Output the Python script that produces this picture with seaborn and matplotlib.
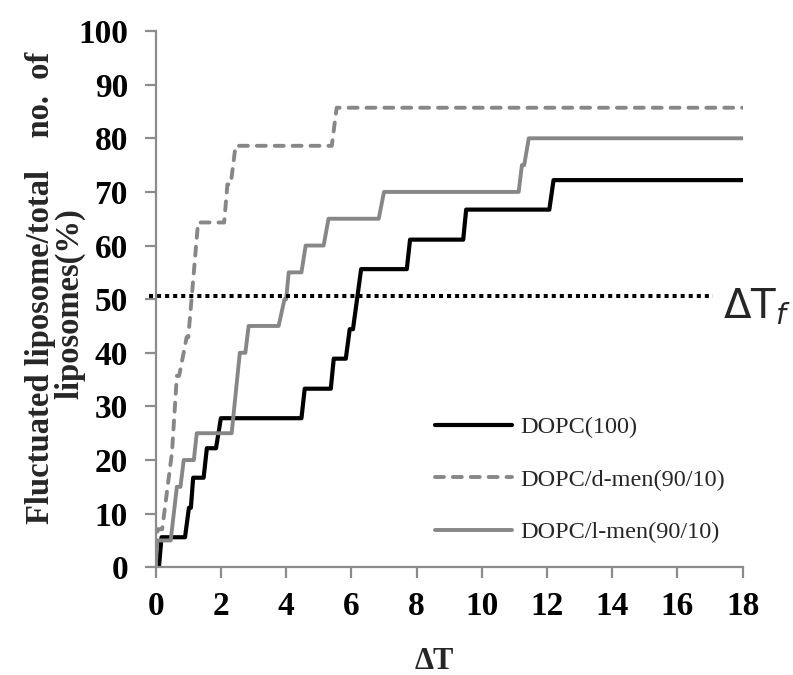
import matplotlib
matplotlib.use("Agg")
import matplotlib.pyplot as plt
import seaborn as sns
import pandas as pd

# ---- data ----
dopc_x = [0.1, 0.18, 0.9, 1.02, 1.08, 1.15, 1.47, 1.57, 1.85, 2.0, 4.47, 4.57, 5.37, 5.46,
          5.83, 5.95, 6.05, 6.3, 7.7, 7.8, 9.43, 9.52, 12.07, 12.2, 18.0]
dopc_y = [0, 5.6, 5.6, 11.1, 11.1, 16.7, 16.7, 22.2, 22.2, 27.8, 27.8, 33.3, 33.3, 38.9,
          38.9, 44.4, 44.4, 55.6, 55.6, 61.1, 61.1, 66.7, 66.7, 72.2, 72.2]

dmen_x = [0.0, 0.06, 0.2, 0.5, 0.65, 0.72, 0.95, 1.0, 1.1, 1.3, 2.1, 2.2, 2.3, 2.45,
          5.4, 5.55, 18.0]
dmen_y = [0, 7.1, 7.1, 21.4, 35.7, 35.7, 42.9, 42.9, 50.0, 64.3, 64.3, 71.4, 71.4, 78.6,
          78.6, 85.7, 85.7]

lmen_x = [0.0, 0.05, 0.46, 0.65, 0.76, 0.86, 1.17, 1.26, 2.33, 2.58, 2.75, 2.85, 3.77,
          3.95, 4.0, 4.08, 4.47, 4.6, 5.15, 5.3, 6.84, 7.0, 11.13, 11.23, 11.3, 11.44, 18.0]
lmen_y = [0, 5, 5, 15, 15, 20, 20, 25, 25, 40, 40, 45, 45, 50, 50, 55, 55, 60, 60, 65, 65,
          70, 70, 75, 75, 80, 80]

threshold_x = [-0.2, 17.1]
threshold_y = [50.6, 50.6]

labels = ["DOPC(100)", "DOPC/d-men(90/10)", "DOPC/l-men(90/10)"]
x_ticks = list(range(0, 19, 2))
y_ticks = list(range(0, 101, 10))

# ---- plotting ----
sns.set_theme(style="white")
plt.rcParams["font.family"] = ["Liberation Serif", "DejaVu Serif"]

fig = plt.figure(figsize=(7.93, 6.75), dpi=100)
ax = fig.add_axes([0.1963, 0.1596, 0.7403, 0.7944])

df_dopc = pd.DataFrame({"x": dopc_x, "y": dopc_y})
df_dmen = pd.DataFrame({"x": dmen_x, "y": dmen_y})
df_lmen = pd.DataFrame({"x": lmen_x, "y": lmen_y})

sns.lineplot(data=df_dopc, x="x", y="y", sort=False, estimator=None, ax=ax,
             color="black", linewidth=3.0, label=labels[0])
sns.lineplot(data=df_dmen, x="x", y="y", sort=False, estimator=None, ax=ax,
             color="#878787", linewidth=2.8, label=labels[1])
sns.lineplot(data=df_lmen, x="x", y="y", sort=False, estimator=None, ax=ax,
             color="#878787", linewidth=2.8, label=labels[2])

# make the d-men line dashed
dline = ax.lines[1]
dline.set_dashes((2.3, 2.3))
dline.set_dash_capstyle("round")

ax.plot(threshold_x, threshold_y, color="black", linewidth=2.9,
        dashes=(1, 1), clip_on=False)

ax.text(17.4, 46.5, r"$\Delta\mathrm{T}_{f}$", fontsize=29,
        ha="left", va="baseline", math_fontfamily="dejavusans", clip_on=False)

ax.set_xlim(0, 18)
ax.set_ylim(0, 100)
ax.set_xticks(x_ticks)
ax.set_yticks(y_ticks)
ax.set_xticklabels([str(t) for t in x_ticks], fontsize=24, fontweight="bold")
ax.set_yticklabels([str(t) for t in y_ticks], fontsize=24, fontweight="bold")

for s in ["top", "right"]:
    ax.spines[s].set_visible(False)
for s in ["left", "bottom"]:
    ax.spines[s].set_color("#8c8c8c")
    ax.spines[s].set_linewidth(1.6)

ax.tick_params(axis="both", which="major", direction="out", length=8, width=1.6,
               color="#8c8c8c", labelcolor="black")
ax.tick_params(axis="x", pad=9, bottom=True)
ax.tick_params(axis="y", pad=12, left=True)

ax.set_xlabel("ΔT", fontsize=22, fontweight="bold")
ax.set_ylabel("Fluctuated liposome/total" + " " * 4 + "no." + " " * 2 + "of\n"
              + "liposomes(%)" + " " * 4,
              fontsize=23.5, fontweight="bold", linespacing=0.95)
ax.xaxis.set_label_coords(0.475, -0.148)
ax.yaxis.set_label_coords(-0.118, 0.521)

leg = ax.legend(loc="upper left", bbox_to_anchor=(0.46, 0.30), frameon=False,
                fontsize=17.5, handlelength=3.17, handletextpad=0.33, labelspacing=1.26,
                borderaxespad=0)

fig.savefig("out.png", dpi=100)
